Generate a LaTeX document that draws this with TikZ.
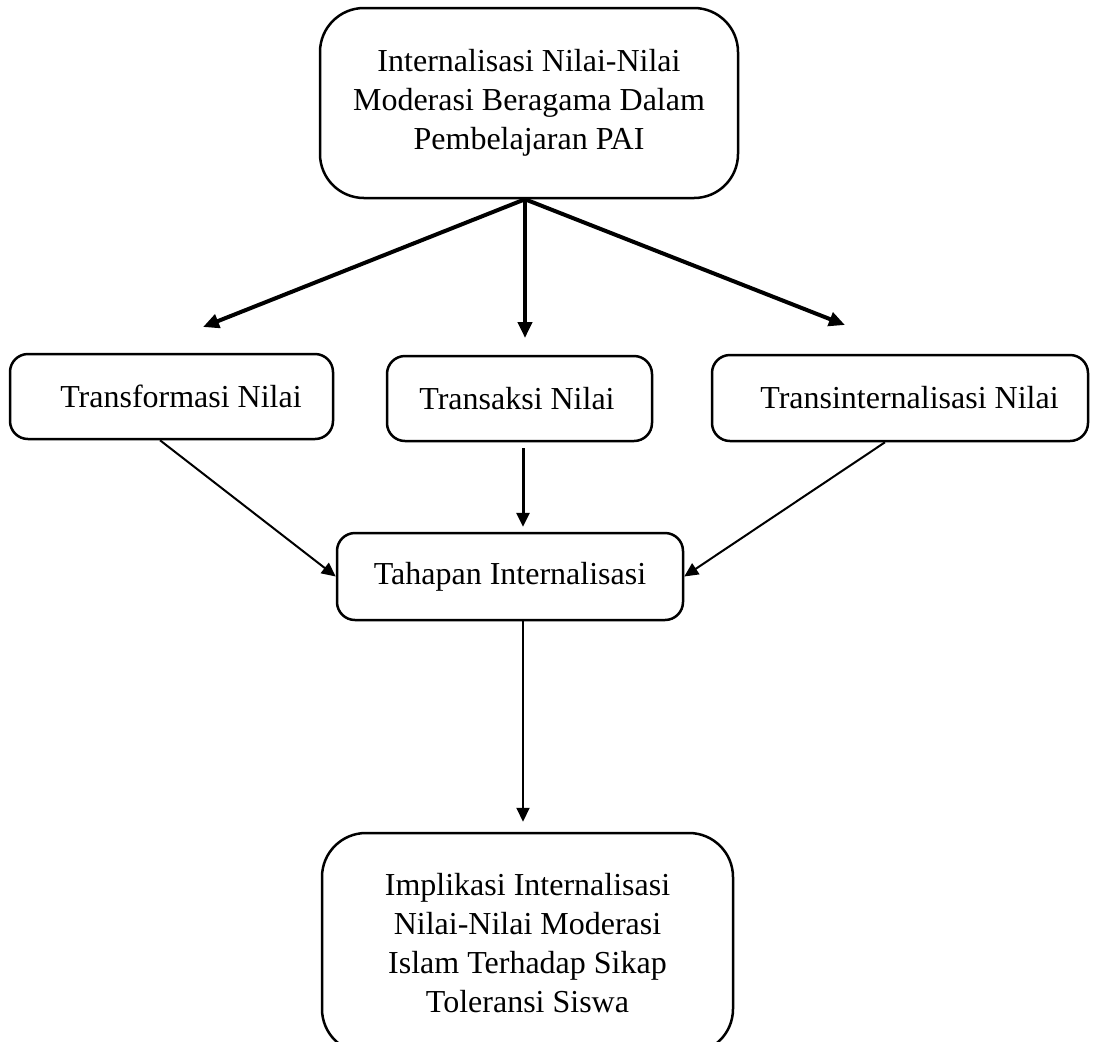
\documentclass[tikz,border=0pt]{standalone}
\usepackage{fontspec}
\setmainfont{Liberation Serif}
\usetikzlibrary{arrows.meta}

\begin{document}
\begin{tikzpicture}[x=0.5pt,y=-0.5pt,
  box/.style={draw=black,line width=1.25pt,rounded corners=9pt,align=center,
    inner sep=0pt,font=\fontsize{16}{19.5}\selectfont},
  bigbox/.style={box,rounded corners=22pt},
  bigarr/.style={-{Triangle[length=8pt,width=7pt]},line width=2pt},
  midarr/.style={-{Triangle[length=7pt,width=6.5pt]},line width=1.5pt},
  smallarr/.style={-{Triangle[length=7pt,width=6.5pt]},line width=1pt}]
 \clip (0,0) rectangle (1099,1041);
 \useasboundingbox (0,0) rectangle (1099,1041);
 \node[bigbox,minimum width=209pt,minimum height=95pt] (top) at (529,103)
   {Internalisasi Nilai-Nilai\\Moderasi Beragama Dalam\\Pembelajaran PAI};
 \node[box,minimum width=161.5pt,minimum height=42.5pt] (tf) at (171.5,396.5)
   {\hspace*{9.5pt}Transformasi Nilai};
 \node[box,minimum width=132.5pt,minimum height=42.5pt] (ts) at (519.5,398.5)
   {Transaksi Nilai\hspace*{2.5pt}};
 \node[box,minimum width=188pt,minimum height=43pt] (ti) at (900,398)
   {\hspace*{9.5pt}Transinternalisasi Nilai};
 \node[box,minimum width=173pt,minimum height=43.5pt] (tahap) at (510,576.5)
   {Tahapan Internalisasi};
 \node[bigbox,minimum width=205.5pt,minimum height=110pt] (impl) at (527.5,943)
   {Implikasi Internalisasi\\Nilai-Nilai Moderasi\\Islam Terhadap Sikap\\Toleransi Siswa};
 % arrow ends above the middle row
 \coordinate (tf in) at (203,327);
 \coordinate (ts in) at (525,338);
 \coordinate (ti in) at (845,325);
 \draw[bigarr] ([xshift=-2pt]top.south) -- (tf in);
 \draw[bigarr] ([xshift=-2pt]top.south) -- (ts in);
 \draw[bigarr] ([xshift=-2pt]top.south) -- (ti in);
 \draw[smallarr] ([xshift=-5.75pt]tf.south) -- (tahap.west);
 \draw[midarr] ([xshift=1.75pt,yshift=-3pt]ts.south)
   -- ([xshift=6.5pt,yshift=2.5pt]tahap.north);
 \draw[smallarr] ([xshift=-7.5pt]ti.south) -- (tahap.east);
 \draw[smallarr] ([xshift=6.5pt]tahap.south) -- ([xshift=-2.25pt,yshift=5pt]impl.north);
\end{tikzpicture}
\end{document}
